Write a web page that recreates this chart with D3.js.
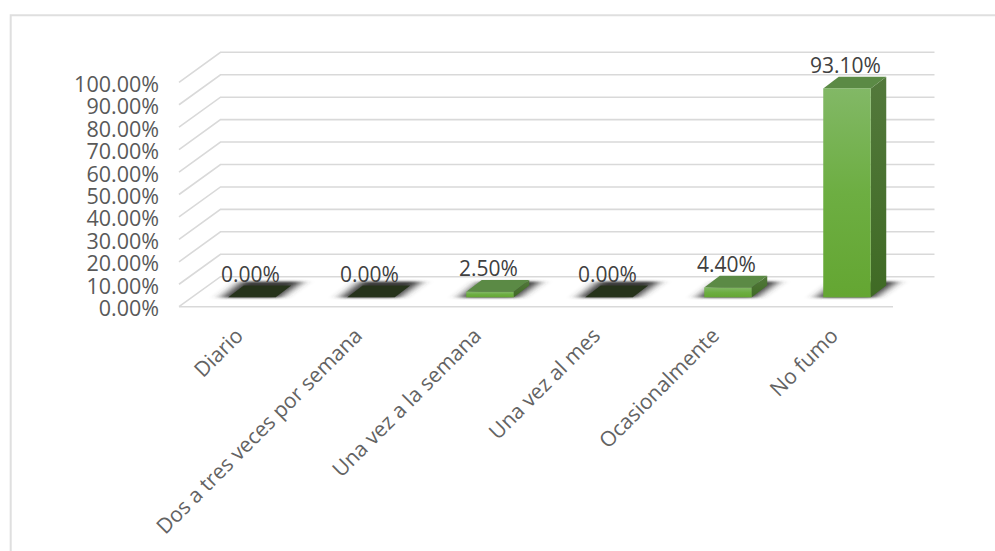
<!DOCTYPE html>
<html><head><meta charset="utf-8">
<script src="https://cdn.jsdelivr.net/npm/d3@7"></script>
<style>html,body{margin:0;padding:0;background:#fff}svg{display:block}text{font-family:"Open Sans",sans-serif}</style>
</head><body><div id="c"></div>
<script>
const categories=["Diario","Dos a tres veces por semana","Una vez a la semana","Una vez al mes","Ocasionalmente","No fumo"];
const values=[0,0,2.5,0,4.4,93.1];
const valueLabels=["0.00%","0.00%","2.50%","0.00%","4.40%","93.10%"];
const ticks=d3.range(0,101,10);

const W=995,H=551;
const svg=d3.select("#c").append("svg").attr("width",W).attr("height",H);
const defs=svg.append("defs");
const fg=defs.append("linearGradient").attr("id","front").attr("x1",0).attr("x2",0).attr("y1",0).attr("y2",1);
[[0,"#82b866"],[0.5,"#6dae42"],[1,"#64a632"]].forEach(s=>fg.append("stop").attr("offset",s[0]).attr("stop-color",s[1]));
const sg=defs.append("linearGradient").attr("id","side").attr("x1",0).attr("x2",0).attr("y1",0).attr("y2",1);
[[0,"#53793c"],[1,"#3f6a24"]].forEach(s=>sg.append("stop").attr("offset",s[0]).attr("stop-color",s[1]));
defs.append("filter").attr("id","blur").attr("x","-40%").attr("y","-40%").attr("width","180%").attr("height","180%")
  .append("feGaussianBlur").attr("stdDeviation","6 0.9");

const frame=d3.path();frame.moveTo(10.7,551);frame.lineTo(10.7,15.3);frame.lineTo(995,15.3);
svg.append("path").attr("d",frame.toString()).attr("fill","none").attr("stroke","#dfdfdf").attr("stroke-width",2);

const yFront=d3.scaleLinear().domain([0,100]).range([306.7,82.3]);
const x=d3.scaleBand().domain(categories).range([179,893]);
const depthX=41.5,depthY=-30,backRight=934.5;
const barW=47.5,barOff=13.5,barDX=15.5,barDY=-11.7,barBase=-9.4;

const grid=svg.append("g").attr("fill","none").attr("stroke","#d9d9d9").attr("stroke-width",1.6);
grid.selectAll("path").data(ticks).join("path").attr("d",t=>{
  const y=yFront(t);
  return d3.line()([[179,y],[179+depthX,y+depthY],[backRight,y+depthY]]);
});
grid.append("line").attr("x1",179).attr("x2",893).attr("y1",yFront(0)).attr("y2",yFront(0));

svg.append("g").selectAll("text").data(ticks).join("text")
  .attr("x",159).attr("y",t=>yFront(t)+9.5).attr("text-anchor","end")
  .attr("font-size",21.5).attr("fill","#595959").text(t=>d3.format(".2f")(t)+"%");

const bars=svg.append("g").selectAll("g").data(categories).join("g");
bars.each(function(c,i){
  const g=d3.select(this),v=values[i];
  const x0=x(c)+barOff+x.bandwidth()/2-barW/2,x1=x0+barW;
  const yb=yFront(0)+barBase,h=yFront(0)-yFront(v),yt=yb-h;
  const line=d3.line();
  g.append("path").attr("filter","url(#blur)").attr("fill","#3a3a3a")
    .attr("d",line([[x0-7,yb+0.5],[x1+4,yb+0.5],[x1+barDX+11,yb+barDY-4],[x0+barDX-2,yb+barDY-4]])+"Z");
  if(v===0){
    g.append("path").attr("fill","#26331b")
      .attr("d",line([[x0,yb],[x1,yb],[x1+barDX,yb+barDY],[x0+barDX,yb+barDY]])+"Z");
  } else {
    g.append("path").attr("fill","url(#side)")
      .attr("d",line([[x1,yb],[x1,yt],[x1+barDX,yt+barDY],[x1+barDX,yb+barDY]])+"Z");
    g.append("path").attr("fill","#5b8a45")
      .attr("d",line([[x0,yt],[x1,yt],[x1+barDX,yt+barDY],[x0+barDX,yt+barDY]])+"Z");
    g.append("rect").attr("x",x0).attr("y",yt).attr("width",barW).attr("height",h).attr("fill","url(#front)");
  }
  g.append("text").attr("x",(x0+x1)/2-1.5).attr("y",yt+barDY-4).attr("text-anchor","middle")
    .attr("font-size",21).attr("fill","#404040").text(valueLabels[i]);
  const ax=x(c)+x.bandwidth()/2+6;
  g.append("text").attr("transform",`translate(${ax},337) rotate(-45)`).attr("text-anchor","end")
    .attr("font-size",21).attr("fill","#636363").text(c);
});
</script></body></html>
